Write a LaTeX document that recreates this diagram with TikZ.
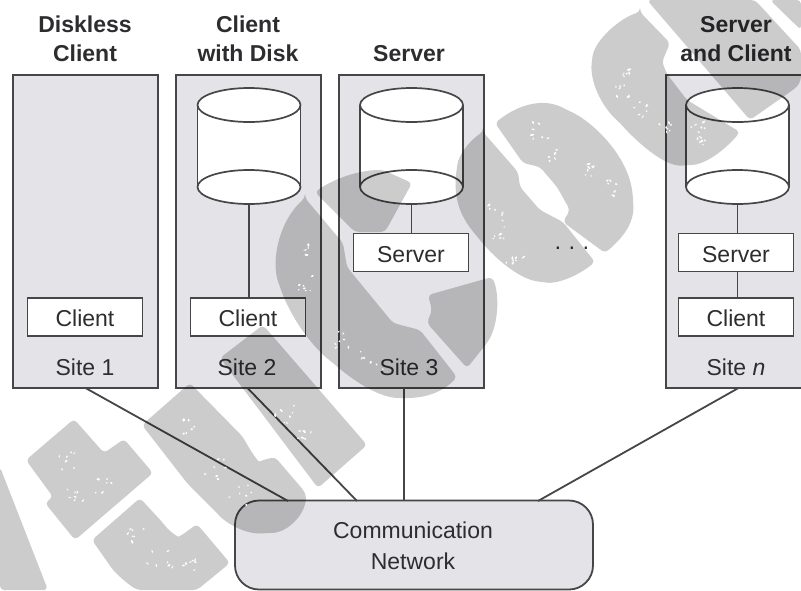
\documentclass[tikz,border=0pt]{standalone}
\usepackage{fontspec}
\setmainfont{Liberation Sans}
\usetikzlibrary{shapes.geometric}
\definecolor{ink}{RGB}{70,70,72}
\definecolor{sitefill}{RGB}{228,228,232}
\definecolor{txt}{RGB}{45,45,48}
\tikzset{
  x=1pt,y=-1pt,
  wire/.style={draw=ink,line width=1.8pt},
  sitebox/.style={draw=ink,fill=sitefill,line width=2pt,minimum width=145pt,minimum height=313pt,inner sep=0pt,outer sep=0pt},
  innerbox/.style={draw=ink,fill=white,line width=1.8pt,minimum width=115pt,minimum height=38pt,inner sep=0pt,outer sep=0pt,text=txt,font=\fontsize{23}{23}\selectfont,text height=19.5pt,text depth=0pt},
  diskend/.style={ellipse,draw=ink,fill=white,line width=1.7pt,minimum width=103pt,minimum height=34pt,inner sep=0pt,outer sep=0pt},
  sitelabel/.style={anchor=base,text=txt,font=\fontsize{23}{23}\selectfont,inner sep=0pt},
  title/.style={anchor=base,text=txt,font=\bfseries\fontsize{23}{23}\selectfont,inner sep=0pt},
  netbox/.style={draw=ink,fill=sitefill,line width=1.8pt,rounded corners=24pt,minimum width=358pt,minimum height=89pt,inner sep=0pt,outer sep=0pt},
  wm/.style={fill=black,opacity=0.2,draw=none,rounded corners=4pt}
}
\begin{document}
\begin{tikzpicture}
\useasboundingbox (0,0) rectangle (801,590);
\fill[white] (0,0) rectangle (801,590);
% titles
\node[title] (t1a) at (85,32) {Diskless};
\node[title] (t1b) at (85,61) {Client};
\node[title] (t2a) at (248,32) {Client};
\node[title] (t2b) at (248,61) {with Disk};
\node[title] (t3b) at (409,61) {Server};
\node[title] (t4a) at (736,32) {Server};
\node[title] (t4b) at (736,61) {and Client};
% sites
\node[sitebox] (s1) at (85.5,231.5) {};
\node[sitebox] (s2) at (248.5,231.5) {};
\node[sitebox] (s3) at (411.5,231.5) {};
\node[sitebox] (s4) at (738.5,231.5) {};
% network
\node[netbox] (net) at (414,545) {};
\coordinate (e1) at (288,501);
\coordinate (e2) at (357,501);
\coordinate (e3) at (404,501);
\coordinate (e4) at (538,501);
\draw[wire] (s1.south) -- (e1);
\draw[wire] ([xshift=-1pt]s2.south) -- (e2);
\draw[wire] ([xshift=-7.5pt]s3.south) -- (e3);
\draw[wire] (s4.south) -- (e4);
% disks
\foreach \n/\x in {d2/249,d3/411.5,dn/737.5}{
  \fill[white] (\x-51.5,105) rectangle (\x+51.5,187);
  \node[diskend] (\n b) at (\x,187) {};
  \node[diskend] (\n t) at (\x,105) {};
  \draw[wire] (\n t.west) -- (\n b.west);
  \draw[wire] (\n t.east) -- (\n b.east);
}
% inner boxes
\node[innerbox] (c1) at (85,317) {Client};
\node[innerbox] (c2) at (248,317) {Client};
\node[innerbox] (v3) at (411,252.5) {Server};
\node[innerbox] (vn) at (736,252.5) {Server};
\node[innerbox] (cn) at (736,317) {Client};
\draw[wire] (d2b.south) -- (d2b.south |- c2.north);
\draw[wire] (d3b.south) -- (d3b.south |- v3.north);
\draw[wire] (dnb.south) -- (dnb.south |- vn.north);
\draw[wire] (dnb.south |- vn.south) -- (dnb.south |- cn.north);
% labels
\node[sitelabel] (l1) at (85,375) {Site 1};
\node[sitelabel] (l2) at (247,375) {Site 2};
\node[sitelabel] (l3) at (409,375) {Site 3};
\node[sitelabel] (l4) at (736,375) {Site \textit{n}};
\node[sitelabel] (dots) at (572,254) {· · ·};
\node[sitelabel] (n1) at (413,538) {Communication};
\node[sitelabel] (n2) at (413,569) {Network};
% watermark
\fill[wm] (305,198) -- (343,243) -- (347,267) -- (393,323) -- (420,330) -- (457,377)
  .. controls (440,395) and (420,398) .. (403,398)
  .. controls (380,398) and (355,382) .. (333,363)
  .. controls (310,345) and (290,315) .. (280,287)
  .. controls (270,260) and (280,220) .. cycle;
\fill[wm] (315,192) .. controls (335,178) and (360,170) .. (383,170) -- (412,183) -- (385,232) -- (355,232) -- cycle;
\fill[wm] (428,295) -- (492,277) .. controls (500,295) and (498,325) .. (487,343) -- (467,368) -- (427,323) -- (432,310) -- cycle;
\fill[wm] (495,123) .. controls (520,103) and (545,98) .. (567,110)
  .. controls (590,120) and (630,155) .. (633,200)
  .. controls (635,225) and (620,240) .. (605,253)
  -- (563,222) -- (570,210) -- (557,187) -- (540,167) -- (523,163) -- cycle;
\fill[wm] (483,132) -- (518,172) -- (520,187) -- (540,210) -- (563,222) -- (595,262)
  .. controls (575,278) and (555,284) .. (543,282)
  .. controls (520,280) and (495,258) .. (480,240)
  .. controls (465,222) and (452,205) .. (457,167)
  .. controls (459,155) and (470,140) .. cycle;
\fill[wm] (640,12) -- (670,43) -- (662,62) -- (667,74) -- (687,100) -- (740,132)
  .. controls (725,150) and (705,165) .. (687,165)
  .. controls (665,168) and (635,140) .. (620,123)
  .. controls (600,105) and (590,80) .. (592,60)
  .. controls (595,40) and (620,18) .. cycle;
\fill[wm] (647,0) -- (750,120) -- (797,87) -- (801,80) -- (801,50) -- (755,0) -- cycle;
\fill[wm] (770,0) -- (801,30) -- (801,0) -- cycle;
\fill[wm] (74,419) -- (104,453) -- (124,439) -- (153,473) -- (75,540) -- (45,503) -- (53,497) -- (26,460) -- cycle;
\fill[wm] (140,498) -- (163,523) .. controls (170,532) and (178,537) .. (182,535) -- (197,524) -- (230,563) -- (197,590) -- (137,590) .. controls (125,582) and (115,572) .. (113,570) -- (92,540) -- cycle;
\fill[wm] (0,467) -- (48,590) -- (0,590) -- cycle;
\fill[wm] (190,383) -- (243,437) .. controls (250,450) and (258,462) .. (263,460) -- (275,457) -- (305,492)
  .. controls (308,510) and (290,533) .. (267,533)
  .. controls (245,535) and (225,522) .. (217,513) -- (187,483) -- (142,425) -- cycle;
\fill[wm] (263,325) -- (367,445) -- (318,488) -- (220,358) -- cycle;
% white flecks in the watermark
\pgfmathsetseed{4217}
\foreach \cx/\cy/\r in {65/462/10,75/497/8,103/486/9,135/533/9,160/557/13,190/566/7,
  190/425/9,215/470/11,240/497/12,285/412/12,305/435/8,
  307/250/6,305/283/8,345/338/11,372/362/12,
  540/130/9,556/155/7,610/190/11,590/170/7,
  495/212/9,498/232/7,515/258/9,
  625/72/5,622/90/7,642/110/8,664/128/7,697/130/8,700/142/5}{
  \foreach \k in {1,...,7}{
    \pgfmathsetmacro{\px}{\cx+\r*rand}
    \pgfmathsetmacro{\py}{\cy+\r*rand}
    \pgfmathsetmacro{\ra}{0.8+1.3*abs(rand)}
    \pgfmathsetmacro{\rb}{0.6+0.6*abs(rand)}
    \pgfmathsetmacro{\ang}{90*rand}
    \fill[white,rotate around={\ang:(\px,\py)}] (\px,\py) ellipse [x radius=\ra pt,y radius=\rb pt];
  }
}
\end{tikzpicture}
\end{document}
